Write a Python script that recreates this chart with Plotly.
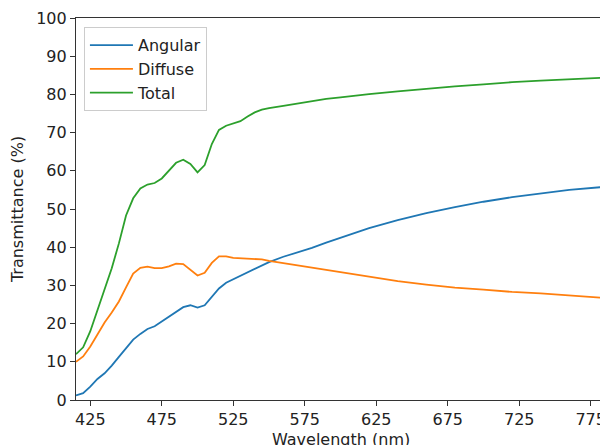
import plotly.graph_objects as go

wavelength = [415, 420, 425, 430, 435, 440, 445, 450, 455, 460, 465, 470, 475, 480,
              485, 490, 495, 500, 505, 510, 515, 520, 525, 530, 535, 540, 545, 550,
              560, 570, 580, 590, 600, 620, 640, 660, 680, 700, 720, 740, 760, 785]

angular = [1.2, 1.8, 3.5, 5.5, 7.0, 9.0, 11.3, 13.5, 15.8, 17.3, 18.6, 19.3, 20.5, 21.7,
           23.0, 24.3, 24.8, 24.2, 24.8, 27.0, 29.2, 30.7, 31.6, 32.5, 33.5, 34.5, 35.3, 36.1,
           37.5, 38.6, 39.8, 41.2, 42.5, 45.0, 47.1, 48.9, 50.5, 51.9, 53.1, 54.1, 55.0, 55.8]

diffuse = [10.0, 11.4, 14.0, 17.3, 20.3, 22.9, 25.8, 29.5, 33.1, 34.6, 34.9, 34.5, 34.5, 35.0,
           35.7, 35.6, 34.2, 32.6, 33.3, 35.9, 37.6, 37.6, 37.2, 37.1, 37.1, 37.0, 36.8, 36.4,
           35.8, 35.3, 34.7, 34.0, 33.4, 32.3, 31.1, 30.2, 29.4, 28.9, 28.3, 27.9, 27.4, 26.7]

total = [12.0, 13.8, 18.0, 23.5, 29.2, 34.5, 41.0, 48.3, 52.8, 55.4, 56.4, 56.8, 58.0, 60.1,
         62.1, 62.9, 61.8, 59.6, 61.5, 67.0, 70.7, 71.8, 72.3, 73.0, 74.2, 75.3, 76.0, 76.4,
         77.0, 77.6, 78.2, 78.8, 79.2, 80.1, 80.8, 81.5, 82.1, 82.6, 83.2, 83.6, 84.0, 84.4]

x_ticks = [425, 475, 525, 575, 625, 675, 725, 775]
y_ticks = [0, 10, 20, 30, 40, 50, 60, 70, 80, 90, 100]

x_title = "Wavelength (nm)"
y_title = "Transmittance (%)"

series = [("Angular", angular, "#1f77b4"),
          ("Diffuse", diffuse, "#ff7f0e"),
          ("Total", total, "#2ca02c")]

fig = go.Figure()
for name, vals, color in series:
    fig.add_trace(go.Scatter(x=wavelength, y=vals, mode="lines", name=name,
                             line=dict(color=color, width=1.8)))

axis_common = dict(showline=True, linecolor="#333333", linewidth=1.2, mirror=True,
                   ticks="outside", ticklen=5, tickcolor="#333333", showgrid=False,
                   zeroline=False, automargin=False,
                   tickfont=dict(size=16, color="#222222"))

# the page body has an 8px default margin, so the figure is sized to fit the window
fig.update_layout(
    width=600, height=437,
    margin=dict(l=68, r=3, t=10, b=45),
    paper_bgcolor="white", plot_bgcolor="white",
    font=dict(family="DejaVu Sans", size=16, color="#222222"),
    xaxis=dict(range=[415, 785], tickvals=x_ticks, **axis_common),
    yaxis=dict(range=[0, 100], tickvals=y_ticks,
               title=dict(text=y_title, font=dict(size=16), standoff=8),
               **axis_common),
    legend=dict(x=0.015, y=0.976, xanchor="left", yanchor="top",
                bgcolor="rgba(255,255,255,0.8)", bordercolor="#cccccc", borderwidth=1,
                font=dict(size=16), tracegroupgap=0, itemwidth=43),
    showlegend=True,
)

# x-axis title sits low, partly cut by the window edge as in the original
fig.add_annotation(text=x_title, xref="paper", yref="paper", x=0.5, y=0,
                   xanchor="center", yanchor="middle", yshift=-39, showarrow=False,
                   font=dict(size=16, color="#222222"))

fig.write_html("out.html")
